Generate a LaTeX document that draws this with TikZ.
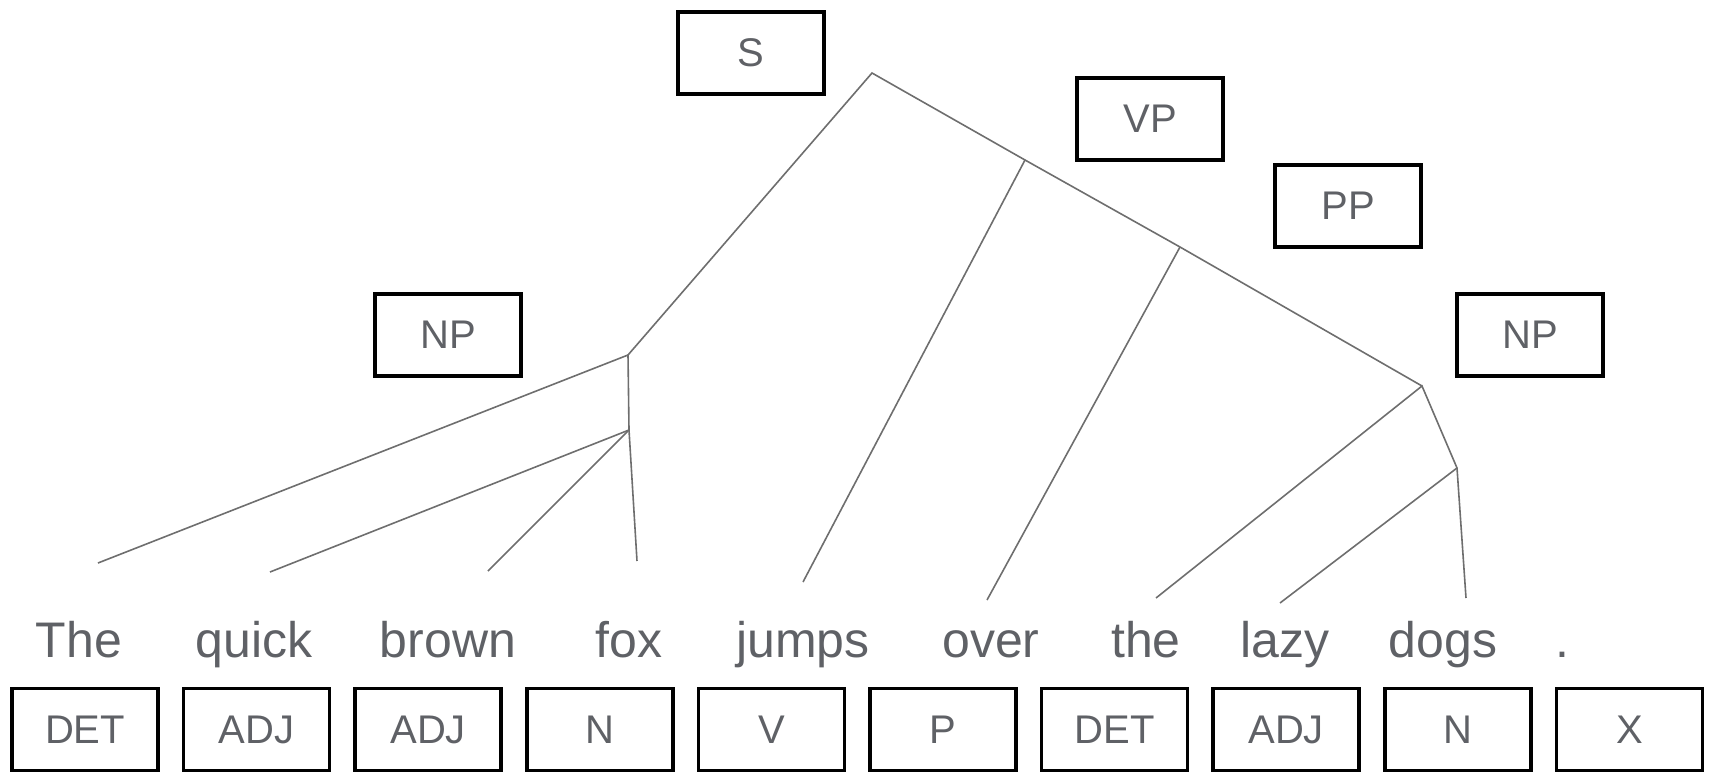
\documentclass[tikz,border=0pt]{standalone}
\usepackage{fontspec}
\setmainfont{Liberation Sans}
\definecolor{txtgray}{HTML}{5F6166}
\definecolor{linegray}{HTML}{6E6E6E}
\begin{document}
\begin{tikzpicture}[x=1pt,y=-1pt,
  labelbox/.style={draw=black, line width=3.5pt, minimum width=146pt, minimum height=82pt, inner sep=0pt, text=txtgray, font=\fontsize{40}{40}\selectfont},
  word/.style={anchor=base, text=txtgray, inner sep=0pt, font=\fontsize{50}{50}\selectfont},
  branch/.style={draw=linegray, line width=1.6pt}]
\useasboundingbox (0,0) rectangle (1713,771);
% phrase boxes
\node[labelbox] (S) at (751,53) {S};
\node[labelbox] (VP) at (1150,119) {VP};
\node[labelbox] (PP) at (1348,206) {PP};
\node[labelbox] (NPr) at (1530,335) {NP};
\node[labelbox] (NPl) at (448,335) {NP};
% POS boxes
\foreach \t [count=\i from 0] in {DET,ADJ,ADJ,N,V,P,DET,ADJ,N,X}{
  \node[labelbox] (pos\i) at ({85+171.6*\i},729.5) {\t};
}
% words
\node[word] (w0) at (79,657) {The};
\node[word] (w1) at (254,657) {quick};
\node[word] (w2) at (448,657) {brown};
\node[word] (w3) at (629,657) {fox};
\node[word] (w4) at (803,657) {jumps};
\node[word] (w5) at (991,657) {over};
\node[word] (w6) at (1146,657) {the};
\node[word] (w7) at (1285,657) {lazy};
\node[word] (w8) at (1443,657) {dogs};
\node[word] (w9) at (1562,657) {.};
% tree points
\coordinate (tS) at (872,73);
\coordinate (tNP) at (628,355);
\coordinate (tNP2) at (629,430);
\coordinate (tVP) at (1025,160);
\coordinate (tPP) at (1180,247);
\coordinate (tNPr) at (1422,386);
\coordinate (tNPr2) at (1457,468);
\coordinate (e0) at (98,563);
\coordinate (e1) at (270,572);
\coordinate (e2) at (488,571);
\coordinate (e3) at (637,561);
\coordinate (e4) at (803,582);
\coordinate (e5) at (987,600);
\coordinate (e6) at (1156,598);
\coordinate (e7) at (1280,603);
\coordinate (e8) at (1466,598);
% branches
\draw[branch] (tNP) -- (tS) -- (tVP) -- (tPP) -- (tNPr);
\draw[branch] (tVP) -- (e4);
\draw[branch] (tPP) -- (e5);
\draw[branch] (e0) -- (tNP) -- (tNP2) -- (e3);
\draw[branch] (tNP2) -- (e1);
\draw[branch] (tNP2) -- (e2);
\draw[branch] (e6) -- (tNPr) -- (tNPr2) -- (e8);
\draw[branch] (tNPr2) -- (e7);
\end{tikzpicture}
\end{document}
